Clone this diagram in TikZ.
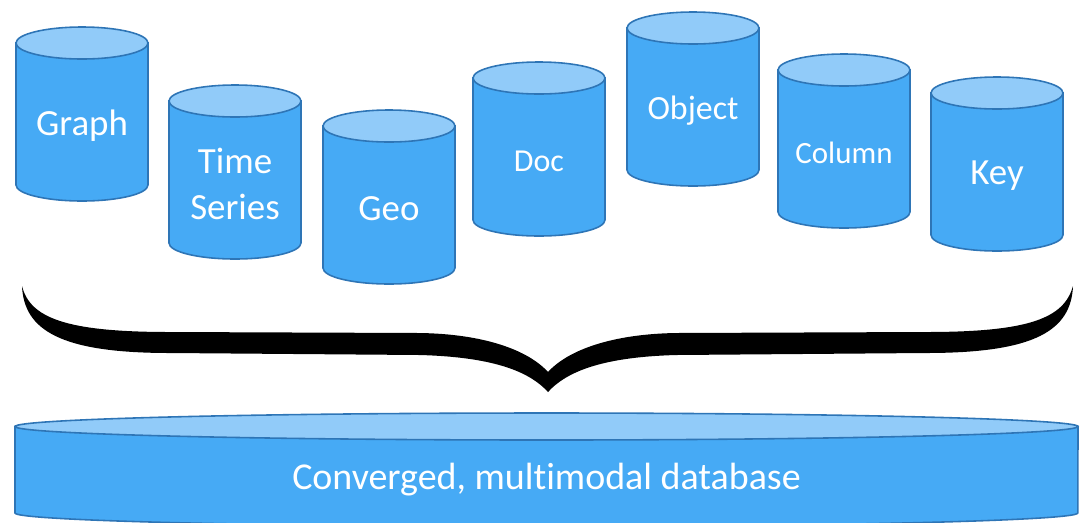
\documentclass[tikz,border=0pt]{standalone}
\usepackage{fontspec}
\setmainfont[Ligatures=CommonOff]{Carlito}

\definecolor{dbblue}{RGB}{70,170,245}
\definecolor{dbtop}{RGB}{145,203,249}
\definecolor{dbline}{RGB}{46,117,182}

\begin{document}
\begin{tikzpicture}[x=0.02cm,y=-0.02cm,
    dbbody/.style={fill=dbblue,draw=dbline,line width=0.9pt},
    dbcap/.style={fill=dbtop,draw=dbline,line width=0.9pt},
    dblabel/.style={text=white,align=center,inner sep=0pt}]

  \useasboundingbox (0,0) rectangle (1088,522);

  % small stores
  \foreach \name/\x/\y/\fs/\txt in {graph/16/27/21/Graph, timeseries/169/85/21/{Time\\Series},
      geo/323/110/21/Geo, doc/473/62/18.2/Doc, object/627/12/19.3/Object,
      column/778/54/17.6/Column, key/931/77/21/Key} {
      \draw[dbbody] (\x,\y+16) -- (\x,\y+158)
        arc[start angle=180,end angle=360,x radius=1.32cm,y radius=0.32cm] -- (\x+132,\y+16) -- cycle;
      \draw[dbcap] (\x+66,\y+16) ellipse [x radius=1.32cm,y radius=0.32cm];
      \node[dblabel,font=\fontsize{\fs}{26}\selectfont] (\name) at (\x+66,\y+99) {\txt};
    }

  % brace
  \fill (22,286) .. controls (24,330) and (60,353) .. (170,353) -- (420,355)
    .. controls (490,357) and (528,370) .. (548,392)
    .. controls (568,370) and (606,357) .. (676,355) -- (926,353)
    .. controls (1036,353) and (1071,330) .. (1073,286)
    .. controls (1064,318) and (1030,332) .. (926,332) -- (676,333)
    .. controls (612,334) and (568,350) .. (548,372)
    .. controls (528,350) and (484,334) .. (420,333) -- (170,332)
    .. controls (66,332) and (30,318) .. (22,286) -- cycle;

  % converged store
  \draw[dbbody] (15,426.5) -- (15,513)
    arc[start angle=180,end angle=360,x radius=10.63cm,y radius=0.27cm] -- (1078,426.5) -- cycle;
  \draw[dbcap] (546.5,426.5) ellipse [x radius=10.63cm,y radius=0.27cm];
  \node[dblabel,font=\fontsize{21.6}{26}\selectfont] (converged) at (546.5,480) {Converged, multimodal database};
\end{tikzpicture}
\end{document}
